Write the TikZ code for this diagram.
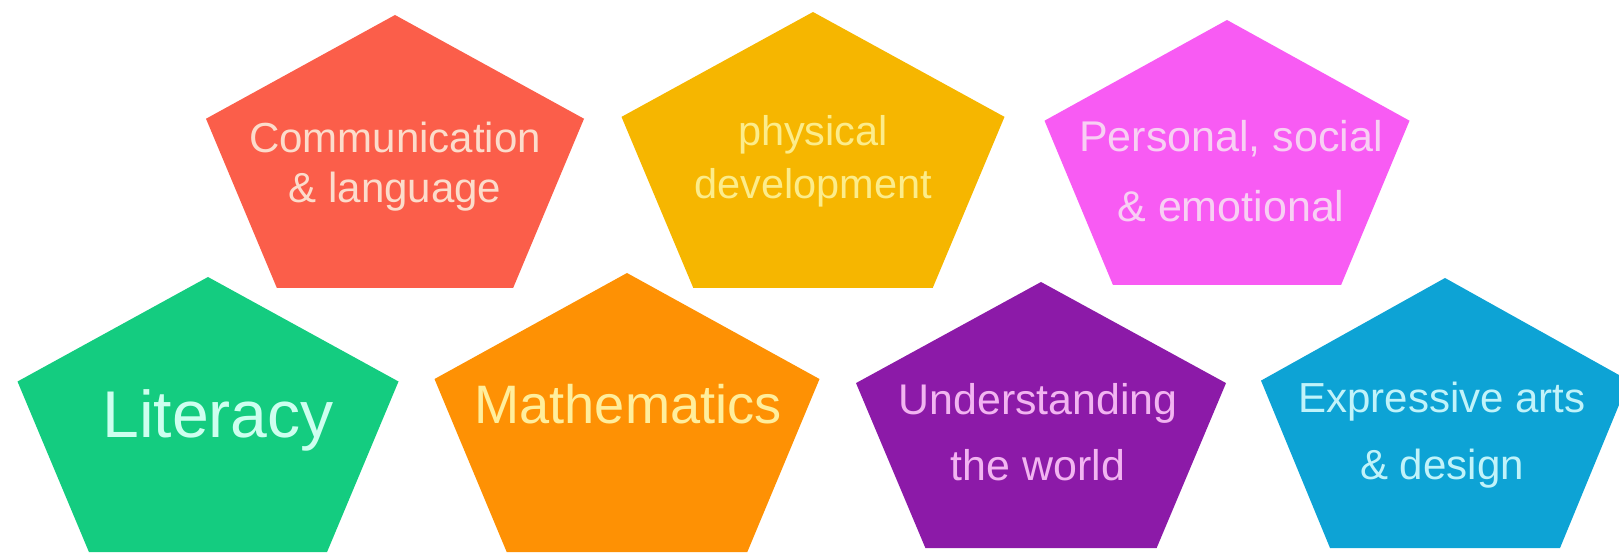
\documentclass[tikz,border=0pt]{standalone}
\usepackage{fontspec}
\setmainfont{Liberation Sans}

% fills and text colours
\definecolor{commfill}{HTML}{FB5E4A}
\definecolor{commtext}{HTML}{FCDCCB}
\definecolor{physfill}{HTML}{F6B600}
\definecolor{phystext}{HTML}{FCEC8A}
\definecolor{persfill}{HTML}{F85BF3}
\definecolor{perstext}{HTML}{F8CFF3}
\definecolor{litfill}{HTML}{14CC80}
\definecolor{littext}{HTML}{CDFFEF}
\definecolor{mathfill}{HTML}{FE9104}
\definecolor{mathtext}{HTML}{FFEE9C}
\definecolor{undfill}{HTML}{8C1AA8}
\definecolor{undtext}{HTML}{F2B4F1}
\definecolor{expfill}{HTML}{0DA3D5}
\definecolor{exptext}{HTML}{C0F3FA}

% pentagon: top x, top y, half width, height, fill
\newcommand{\pent}[5]{%
  \fill[#5] (#1,#2) -- ({#1+#3},{#2+0.38*#4}) -- ({#1+0.625*#3},{#2+#4})
    -- ({#1-0.625*#3},{#2+#4}) -- ({#1-#3},{#2+0.38*#4}) -- cycle;}

\begin{document}
\begin{tikzpicture}[x=0.01cm, y=-0.01cm,
            every node/.style={align=center, inner sep=0pt}]
    \useasboundingbox (0,0) rectangle (1619,555);
    \clip (0,0) rectangle (1619,555);

    % top row
    \pent{395}{15}{189}{273}{commfill}
    \pent{813}{12}{191.5}{276}{physfill}
    \pent{1227}{20}{182.5}{265}{persfill}
    % bottom row
    \pent{208}{277}{190.5}{275}{litfill}
    \pent{627}{273}{192.5}{279}{mathfill}
    \pent{1041}{282}{185}{266}{undfill}
    \pent{1445}{278}{184}{270}{expfill}

    \node(comm) [text=commtext, font=\fontsize{11.95}{14.2}\selectfont]
        at (395, 166.4) {Communication\\\& language};
    \node(phys) [text=phystext, font=\fontsize{11.8}{15}\selectfont]
        at (813, 161) {physical\\development};
    \node(pers) [text=perstext, font=\fontsize{12.23}{19.9}\selectfont]
        at (1231, 171.6) {Personal, social\\\& emotional};
    \node(lit) [text=littext, font=\fontsize{18.8}{22}\selectfont]
        at (218, 420) {Literacy};
    \node(math) [text=mathtext, font=\fontsize{15.4}{18}\selectfont]
        at (628, 404) {Mathematics};
    \node(und) [text=undtext, font=\fontsize{12.2}{18.8}\selectfont]
        at (1038, 432) {Understanding\\the world};
    \node(exp) [text=exptext, font=\fontsize{11.95}{19.1}\selectfont]
        at (1442, 435) {Expressive arts\\\& design};
\end{tikzpicture}
\end{document}
